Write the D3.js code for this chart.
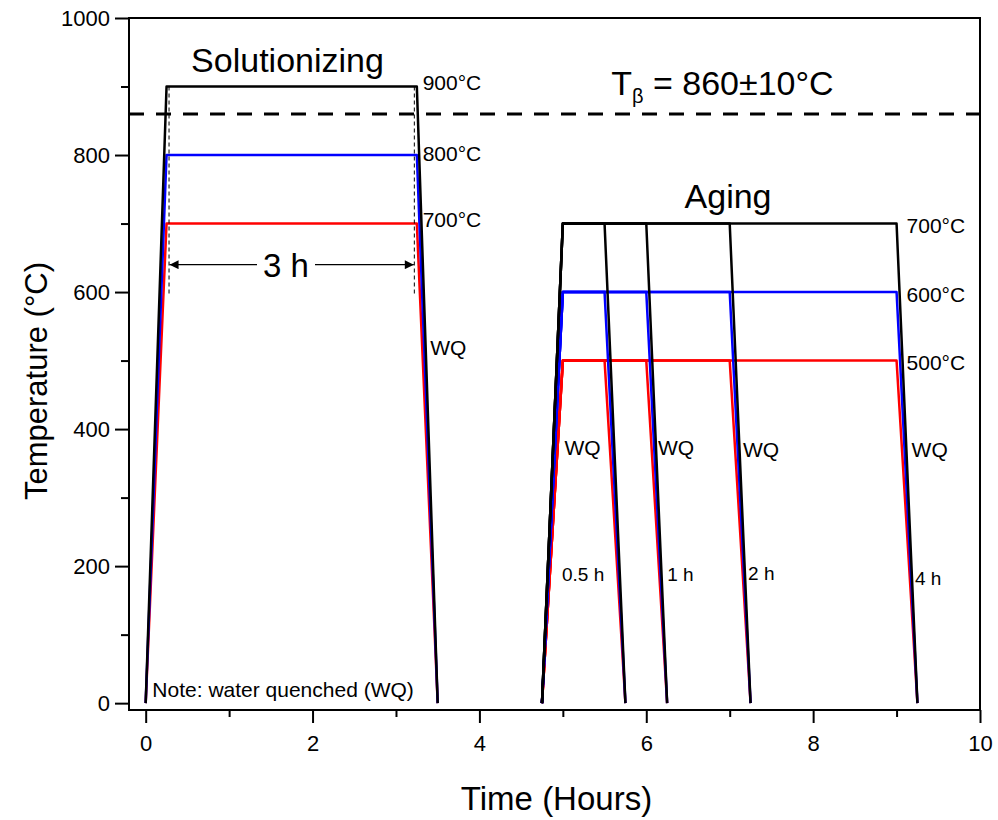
<!DOCTYPE html>
<html>
<head>
<meta charset="utf-8">
<script src="https://cdn.jsdelivr.net/npm/d3@7"></script>
<style>
  body { margin: 0; background: #fff; }
  text { font-family: "Liberation Sans", Arial, sans-serif; fill: #000; }
</style>
</head>
<body>
<div id="chart"></div>
<script>
// heat treatment schedules (hours, degC)
let sol_temps = [700, 800, 900];
let sol_colors = ["#ff0000", "#0000ff", "#000000"];
let sol_start = 0, sol_ramp = 0.25, sol_hold = 3;

let age_temps = [500, 600, 700];
let age_colors = ["#ff0000", "#0000ff", "#000000"];
let age_start = 4.75, age_ramp = 0.25;
let age_holds = [0.5, 1, 2, 4];

let beta_transus = 860;

let x_ticks = [0, 2, 4, 6, 8, 10];
let x_minor = [1, 3, 5, 7, 9];
let y_ticks = [0, 200, 400, 600, 800, 1000];
let y_minor = [100, 300, 500, 700, 900];

// annotations in data coordinates
let sol_labels = [["900°C", 3.32, 895], ["800°C", 3.32, 791], ["700°C", 3.32, 695]];
let age_labels = [["700°C", 9.12, 686], ["600°C", 9.12, 585], ["500°C", 9.12, 486]];
let wq_labels = [[3.41, 508], [5.02, 362], [6.14, 362], [7.16, 359], [9.18, 359]];
let hour_labels = [["0.5 h", 4.99, 178], ["1 h", 6.25, 178], ["2 h", 7.22, 180], ["4 h", 9.22, 172]];

let width = 998, height = 820;
let svg = d3.select("#chart").append("svg")
  .attr("width", width)
  .attr("height", height);

let x = d3.scaleLinear().domain([-0.2, 10]).range([129, 980]);
let y = d3.scaleLinear().domain([-10, 1000]).range([710, 18]);

let line = d3.line().x(d => x(d[0])).y(d => y(d[1]));

// frame
svg.append("rect")
  .attr("x", x(-0.2)).attr("y", y(1000))
  .attr("width", x(10) - x(-0.2)).attr("height", y(-10) - y(1000))
  .attr("fill", "none").attr("stroke", "#000").attr("stroke-width", 2);

// axes
svg.append("g").attr("transform", "translate(0," + y(-10) + ")")
  .call(d3.axisBottom(x).tickValues(x_ticks).tickSize(13).tickPadding(12).tickFormat(d3.format("d")));
svg.append("g").attr("transform", "translate(0," + y(-10) + ")")
  .call(d3.axisBottom(x).tickValues(x_minor).tickSize(7).tickFormat(""));
svg.append("g").attr("transform", "translate(" + x(-0.2) + ",0)")
  .call(d3.axisLeft(y).tickValues(y_ticks).tickSize(14).tickPadding(5).tickFormat(d3.format("d")));
svg.append("g").attr("transform", "translate(" + x(-0.2) + ",0)")
  .call(d3.axisLeft(y).tickValues(y_minor).tickSize(8).tickFormat(""));

svg.selectAll(".domain").remove();
svg.selectAll(".tick line").attr("stroke", "#000").attr("stroke-width", 2);
svg.selectAll(".tick text").attr("font-size", 22).attr("fill", "#000")
  .style("font-family", "'Liberation Sans', Arial, sans-serif");

// axis titles
svg.append("text")
  .attr("x", (x(-0.2) + x(10)) / 2 + 2).attr("y", 810)
  .attr("text-anchor", "middle").attr("font-size", 33)
  .text("Time (Hours)");
svg.append("text")
  .attr("transform", "translate(47," + 381 + ") rotate(-90)")
  .attr("text-anchor", "middle").attr("font-size", 31)
  .text("Temperature (°C)");

// beta transus
svg.append("line")
  .attr("x1", x(-0.2)).attr("x2", x(10))
  .attr("y1", y(beta_transus)).attr("y2", y(beta_transus))
  .attr("stroke", "#000").attr("stroke-width", 3)
  .attr("stroke-dasharray", "15,12");

// solutionizing profiles
sol_temps.forEach((T, i) => {
  let pts = [[sol_start, 0], [sol_start + sol_ramp, T],
             [sol_start + sol_ramp + sol_hold, T], [sol_start + 2 * sol_ramp + sol_hold, 0]];
  svg.append("path").datum(pts)
    .attr("d", line).attr("fill", "none")
    .attr("stroke", sol_colors[i]).attr("stroke-width", 2.5)
    .attr("stroke-linejoin", "round");
});

// aging profiles
age_temps.forEach((T, i) => {
  age_holds.forEach(h => {
    let pts = [[age_start, 0], [age_start + age_ramp, T],
               [age_start + age_ramp + h, T], [age_start + 2 * age_ramp + h, 0]];
    svg.append("path").datum(pts)
      .attr("d", line).attr("fill", "none")
      .attr("stroke", age_colors[i]).attr("stroke-width", 2.5)
      .attr("stroke-linejoin", "round");
  });
});

// hold time markers for solutionizing
[[sol_start + sol_ramp, 2.5], [sol_start + sol_ramp + sol_hold, -2.5]].forEach(m => {
  svg.append("line")
    .attr("x1", x(m[0]) + m[1]).attr("x2", x(m[0]) + m[1])
    .attr("y1", y(900)).attr("y2", y(594))
    .attr("stroke", "#000").attr("stroke-width", 1)
    .attr("stroke-dasharray", "4,3");
});

// 3 h arrow
let defs = svg.append("defs");
defs.append("marker")
  .attr("id", "arrow").attr("viewBox", "0 0 10 10")
  .attr("refX", 10).attr("refY", 5)
  .attr("markerWidth", 14).attr("markerHeight", 9)
  .attr("markerUnits", "userSpaceOnUse")
  .attr("orient", "auto")
  .append("path").attr("d", "M0,0 L10,5 L0,10 Z").attr("fill", "#000");

let arrow_y = y(640);
svg.append("line")
  .attr("x1", 257).attr("x2", x(sol_start + sol_ramp) + 3)
  .attr("y1", arrow_y).attr("y2", arrow_y)
  .attr("stroke", "#000").attr("stroke-width", 1.2)
  .attr("marker-end", "url(#arrow)");
svg.append("line")
  .attr("x1", 315).attr("x2", x(sol_start + sol_ramp + sol_hold) - 3)
  .attr("y1", arrow_y).attr("y2", arrow_y)
  .attr("stroke", "#000").attr("stroke-width", 1.2)
  .attr("marker-end", "url(#arrow)");
svg.append("text")
  .attr("x", 286).attr("y", arrow_y + 12)
  .attr("text-anchor", "middle").attr("font-size", 33)
  .text("3 h");

// titles
svg.append("text")
  .attr("x", x(1.70)).attr("y", y(921))
  .attr("text-anchor", "middle").attr("font-size", 34)
  .text("Solutionizing");
svg.append("text")
  .attr("x", x(6.98)).attr("y", y(723))
  .attr("text-anchor", "middle").attr("font-size", 34)
  .text("Aging");

let tb = svg.append("text")
  .attr("x", x(5.58)).attr("y", y(888))
  .attr("font-size", 34);
tb.append("tspan").text("T");
tb.append("tspan").attr("font-size", 20).attr("dy", 8).text("β");
tb.append("tspan").attr("dy", -8).text(" = 860±10°C");

// temperature labels
svg.selectAll(".sol-label").data(sol_labels).enter().append("text")
  .attr("x", d => x(d[1])).attr("y", d => y(d[2]))
  .attr("font-size", 21).text(d => d[0]);
svg.selectAll(".age-label").data(age_labels).enter().append("text")
  .attr("x", d => x(d[1])).attr("y", d => y(d[2]))
  .attr("font-size", 21).text(d => d[0]);
svg.selectAll(".wq-label").data(wq_labels).enter().append("text")
  .attr("x", d => x(d[0])).attr("y", d => y(d[1]))
  .attr("font-size", 21).text("WQ");
svg.selectAll(".hour-label").data(hour_labels).enter().append("text")
  .attr("x", d => x(d[1])).attr("y", d => y(d[2]))
  .attr("font-size", 19).text(d => d[0]);

svg.append("text")
  .attr("x", x(0.08)).attr("y", y(9))
  .attr("font-size", 21)
  .text("Note: water quenched (WQ)");
</script>
</body>
</html>
